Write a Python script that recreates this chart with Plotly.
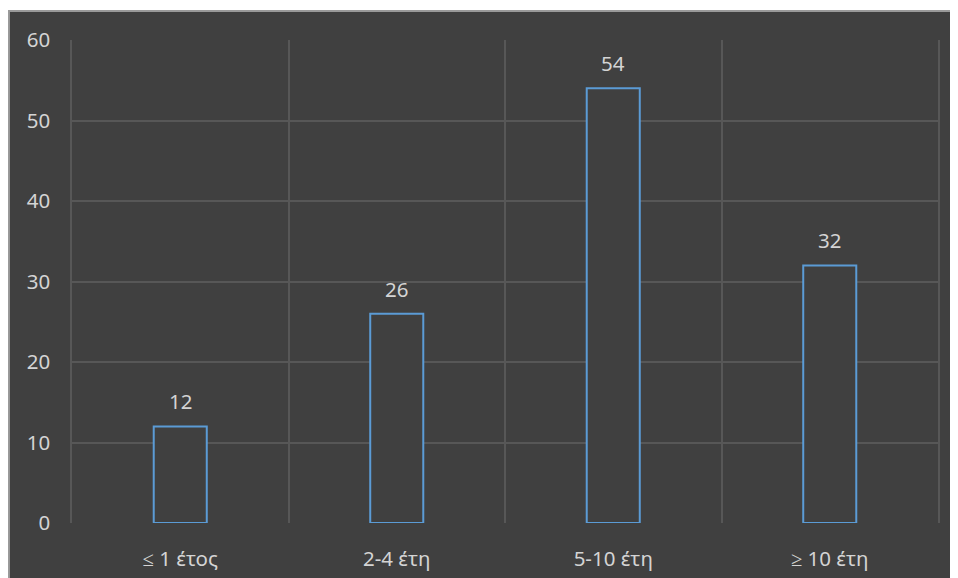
import plotly.graph_objects as go

categories = ["≤ 1 έτος", "2-4 έτη", "5-10 έτη", "≥ 10 έτη"]
values = [12, 26, 54, 32]
y_ticks = [0, 10, 20, 30, 40, 50, 60]

BG = "#404040"
GRID = "#575757"
TXT = "#d4d4d4"
BLUE = "#5b9bd5"
FONT = "Noto Sans"
FS = 20.5

fig = go.Figure()
fig.add_trace(go.Bar(
    x=categories, y=values,
    marker=dict(color=BG, line=dict(color=BLUE, width=2)),
    width=0.245,
    hoverinfo="skip",
))

annotations = [
    dict(x=c, y=v, xref="x", yref="y", text=str(v), showarrow=False,
         yanchor="bottom", yshift=9, font=dict(family=FONT, size=FS, color=TXT))
    for c, v in zip(categories, values)
]

fig.update_layout(
    width=958, height=578,
    margin=dict(l=64, r=28, t=32, b=63),
    paper_bgcolor="white",
    plot_bgcolor=BG,
    showlegend=False,
    font=dict(family=FONT, size=FS, color=TXT),
    annotations=annotations,
    shapes=[dict(type="rect", xref="paper", yref="paper",
                 x0=-0.0728, x1=1.2, y0=-0.3, y1=1.060,
                 fillcolor=BG, line=dict(color="#9a9a9a", width=2), layer="below")],
)
fig.update_xaxes(
    type="category", tickson="boundaries", showgrid=True, gridcolor=GRID, gridwidth=1.5,
    ticks="", showline=False, zeroline=False, range=[-0.5, 3.5],
    tickfont=dict(family=FONT, size=FS, color=TXT), ticklabelstandoff=21,
)
fig.update_yaxes(
    range=[0, 60], tickvals=y_ticks, showgrid=True, gridcolor=GRID, gridwidth=1.5,
    zeroline=False, ticks="", showline=True, linecolor=GRID, linewidth=1.5, mirror=True,
    tickfont=dict(family=FONT, size=FS, color=TXT), ticklabelstandoff=16,
)

fig.write_html("out.html")
